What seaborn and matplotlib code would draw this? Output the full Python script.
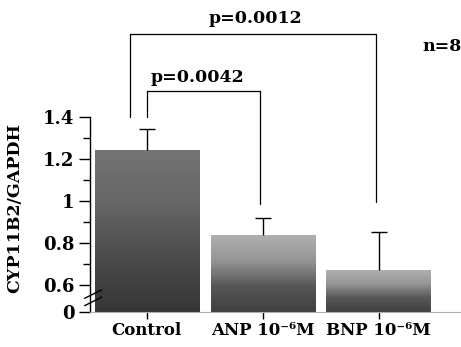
import numpy as np
import pandas as pd
import matplotlib
matplotlib.use("Agg")
import matplotlib.pyplot as plt
import seaborn as sns
from matplotlib.colors import LinearSegmentedColormap

# dados
grupos = ["Control", "ANP 10⁻⁶M", "BNP 10⁻⁶M"]
razao = [1.24, 0.835, 0.67]
erro = [0.10, 0.085, 0.18]
p_valores = ["p=0.0042", "p=0.0012"]
n_texto = "n=8"

y_base = 0.47   # posição onde o "0" fica depois da quebra
y_ticks = [y_base, 0.6, 0.8, 1.0, 1.2, 1.4]
y_ticklabels = ["0", "0.6", "0.8", "1", "1.2", "1.4"]
y_minor = [0.7, 0.9, 1.1, 1.3]

df = pd.DataFrame({"grupo": grupos, "razao": razao})

sns.set_style("ticks")
plt.rcParams["font.family"] = ["DejaVu Serif"]
plt.rcParams["font.weight"] = "bold"
plt.rcParams["text.color"] = "black"
plt.rcParams["xtick.color"] = "black"
plt.rcParams["ytick.color"] = "black"
plt.rcParams["axes.labelcolor"] = "black"

fig = plt.figure(figsize=(4.61, 3.47), dpi=100)
ax = fig.add_axes([0.195, 0.101, 0.805, 0.883])

sns.barplot(data=df, x="grupo", y="razao", color="#666666", width=0.9,
            errorbar=None, ax=ax, zorder=2)

# barras de erro só para cima
xs = np.arange(len(grupos))
eb = ax.errorbar(xs, razao, yerr=[np.zeros(len(erro)), erro], fmt="none",
                 ecolor="black", elinewidth=1, capsize=6, capthick=1, zorder=3)
eb[1][0].remove()  # tira o cap de baixo

# gradiente escuro embaixo -> claro em cima
cm_ctrl = LinearSegmentedColormap.from_list("c", ["#363636", "#4a4a4a", "#666666", "#747474"])
cm_trat = LinearSegmentedColormap.from_list("t", ["#404040", "#565656", "#959595", "#b0b0b0"])
grad = np.linspace(0, 1, 256).reshape(-1, 1)
for i, patch in enumerate(ax.patches):
    x0 = patch.get_x()
    w = patch.get_width()
    h = patch.get_height()
    cmap = cm_ctrl if i == 0 else cm_trat
    im = ax.imshow(grad, extent=[x0, x0 + w, y_base, h], origin="lower",
                   cmap=cmap, aspect="auto", zorder=2.5)
    im.set_clip_path(patch)

ax.set_xlim(-0.49, 2.71)
ax.set_ylim(y_base, 1.93)

# eixos
sns.despine(ax=ax, top=True, right=True)
ax.spines["left"].set_bounds(y_base, 1.4)
ax.spines["left"].set_linewidth(1)
ax.spines["left"].set_color("black")
ax.spines["bottom"].set_color("#b0b0b0")
ax.spines["bottom"].set_linestyle((0, (1, 1)))
ax.set_yticks(y_ticks)
ax.set_yticklabels(y_ticklabels)
ax.set_yticks(y_minor, minor=True)
ax.tick_params(axis="y", which="major", length=8, width=1, labelsize=13, pad=3)
ax.tick_params(axis="y", which="minor", length=5, width=1)
ax.tick_params(axis="x", length=5, width=1, color="black", labelsize=12, pad=2)
ax.set_xlabel("")
ax.set_ylabel("CYP11B2/GAPDH", fontsize=12.5, fontweight="bold")
ax.yaxis.set_label_coords(-0.18, 0.34)

# marca de quebra no eixo
for dy in (0.035, 0.0):
    ax.plot([-0.535, -0.39], [0.535 - dy, 0.575 - dy], color="black", lw=1,
            clip_on=False, zorder=4)

# colchetes de significância
def colchete(xa, xb, ya, yb, y_topo, texto, xoff, ytxt):
    ax.plot([xa, xa, xb, xb], [ya, y_topo, y_topo, yb], color="black",
            lw=0.9, clip_on=False, zorder=4)
    ax.text((xa + xb) / 2 + xoff, ytxt, texto, ha="center", va="center",
            fontsize=12.5, fontweight="bold")

colchete(0.0, 0.98, 1.40, 0.985, 1.524, p_valores[0], -0.05, 1.586)
colchete(-0.14, 1.98, 1.40, 0.995, 1.795, p_valores[1], 0.02, 1.867)
ax.text(2.55, 1.733, n_texto, ha="center", va="center", fontsize=12.5,
        fontweight="bold")

plt.savefig("out.png", dpi=100)
